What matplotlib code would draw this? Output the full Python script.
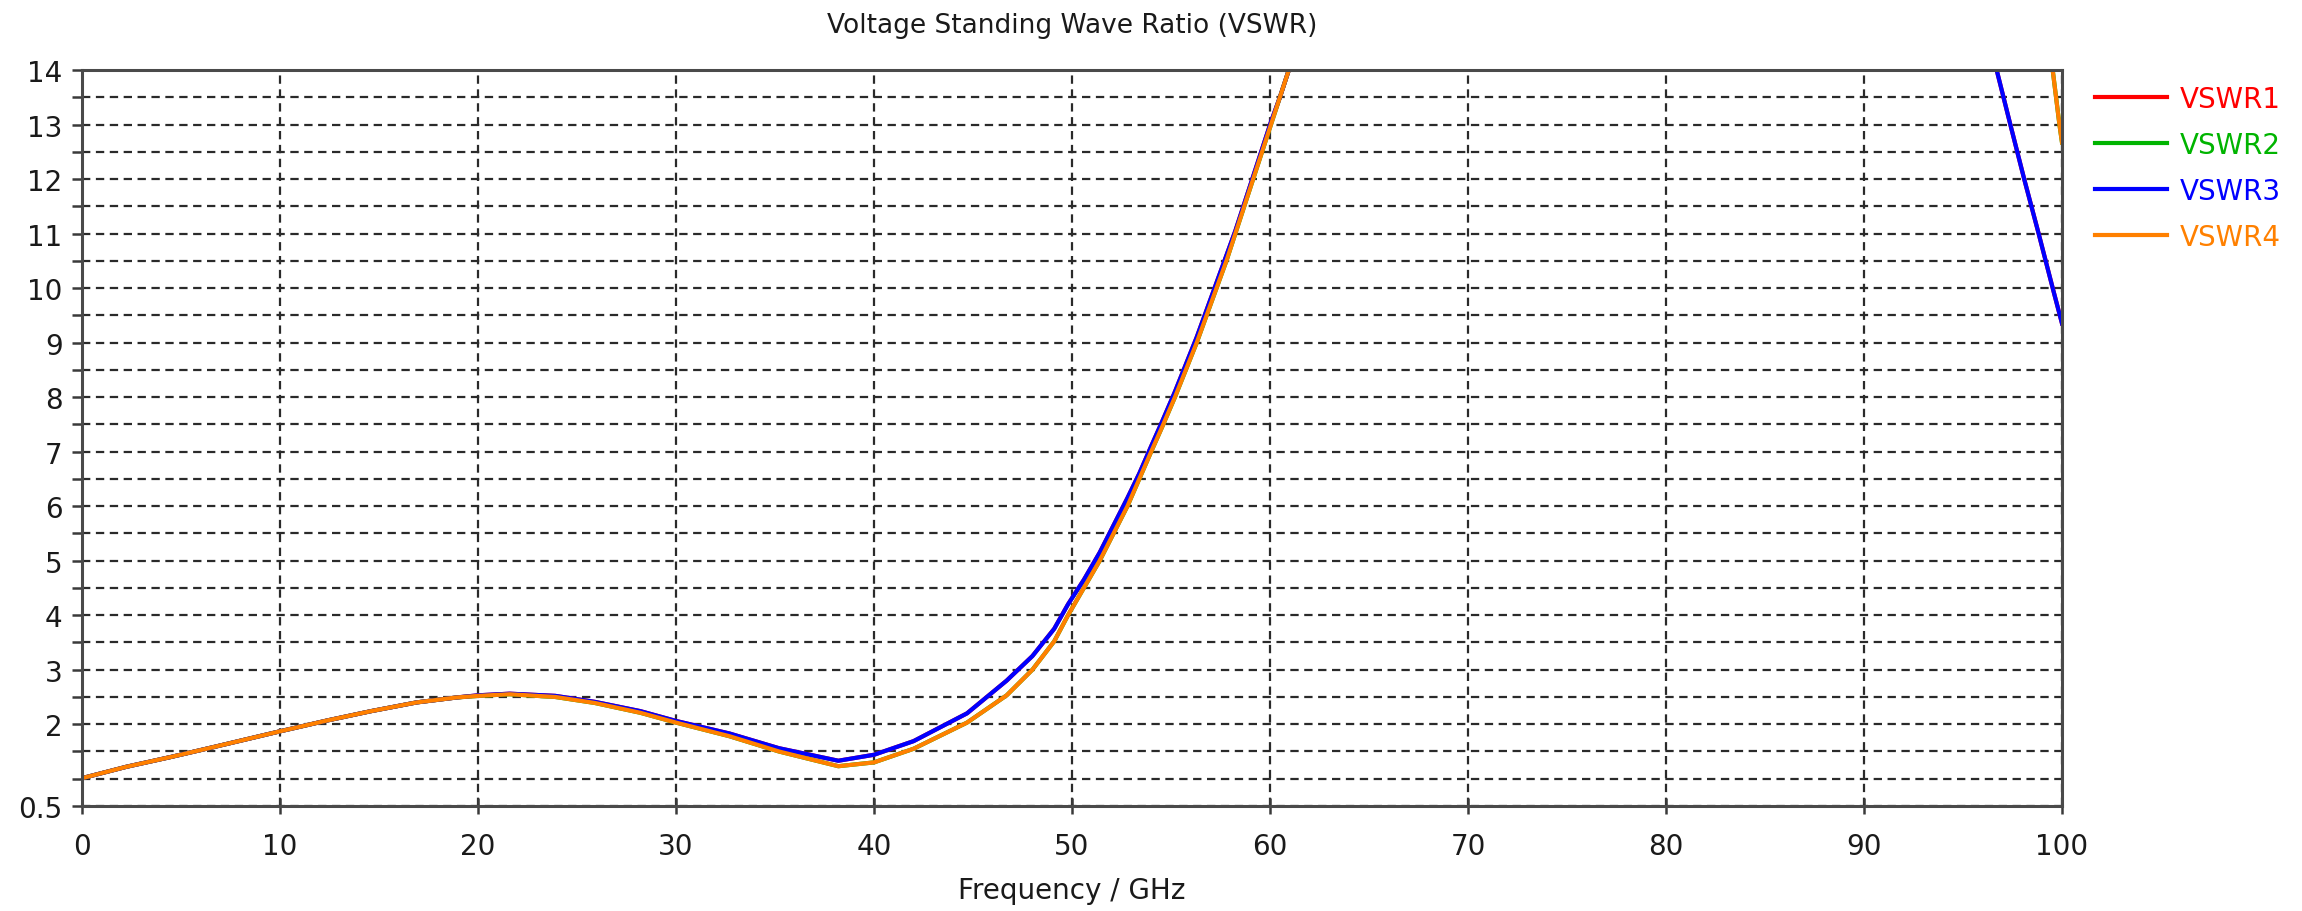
import numpy as np
import matplotlib
matplotlib.use('Agg')
from matplotlib import pyplot as plt

# frequencies in GHz (nan splits the curve where it leaves the top of the plot)
freq = [0, 2.25, 4.5, 6.75, 10, 12.4, 14.6, 16.9, 18.9, 20, 21.6, 23.9, 25.9, 28.2,
        30, 32.7, 35.2, 38.2, 40, 42, 44.7, 46.7, 48, 49.1, 49.8, 50.6, 51.4, 52.1,
        52.8, 53.4, 54.0, 54.55, 55.2, 55.75, 56.3, 56.8, 57.3, 57.8, 58.25, 58.7,
        59.15, 59.6, 60.05, 60.5, 60.95]

vswr_a = [1.01, 1.22, 1.40, 1.59, 1.87, 2.07, 2.24, 2.40, 2.49, 2.52, 2.55, 2.50, 2.39, 2.21,
          2.03, 1.78, 1.50, 1.23, 1.30, 1.55, 2.03, 2.53, 3.0, 3.52, 4.0, 4.5, 5.0, 5.5,
          6.0, 6.5, 7.0, 7.45, 8.0, 8.5, 9.0, 9.5, 10.0, 10.5, 11.0, 11.5,
          12.0, 12.5, 13.0, 13.5, 14.0]
vswr_b = [1.01, 1.22, 1.40, 1.59, 1.87, 2.07, 2.24, 2.40, 2.49, 2.53, 2.56, 2.52, 2.41, 2.24,
          2.06, 1.83, 1.56, 1.33, 1.44, 1.69, 2.20, 2.80, 3.25, 3.75, 4.2, 4.65, 5.15, 5.65,
          6.15, 6.6, 7.1, 7.55, 8.1, 8.6, 9.1, 9.6, 10.1, 10.6, 11.05, 11.55,
          12.05, 12.55, 13.05, 13.5, 14.0]

# right hand branches
freq_hi_b = [96.7, 97.39, 98.09, 98.82, 99.53, 100.0]
vswr_hi_b = [14.0, 13.0, 12.0, 11.0, 10.0, 9.35]
freq_hi_a = [99.53, 99.7, 99.87, 100.0]
vswr_hi_a = [14.0, 13.5, 13.0, 12.67]

labels = ['VSWR1', 'VSWR2', 'VSWR3', 'VSWR4']
colors = ['#ff0000', '#00b400', '#0000ff', '#ff8000']

def join(f1, v1, f2, v2):
    return np.array(f1 + [np.nan] + f2), np.array(v1 + [np.nan] + v2)

fa, va = join(freq, vswr_a, freq_hi_a, vswr_hi_a)
fb, vb = join(freq, vswr_b, freq_hi_b, vswr_hi_b)
series = [(fb, vb), (fa, va), (fb, vb), (fa, va)]

plt.rcParams['lines.scale_dashes'] = False
fig = plt.figure(figsize=(23.02, 9.12), dpi=100)
ax = fig.add_axes([82/2302, 1-807/912, (2062-82)/2302, (807-71)/912])

for (f, v), lab, c in zip(series, labels, colors):
    ax.plot(f, v, color=c, lw=3.0, label=lab, solid_joinstyle='round')

ax.set_xlim(0, 100)
ax.set_ylim(0.5, 14)
ax.set_xticks(np.arange(0, 101, 10))
ax.set_yticks([0.5] + list(range(2, 15)))
ax.set_yticks([1.0, 1.5] + [k + 0.5 for k in range(2, 14)], minor=True)
ax.set_yticklabels(['0.5'] + [str(k) for k in range(2, 15)])

grid_kw = dict(color='#2a2a2a', lw=1.6, linestyle=(0, (6, 4)))
ax.grid(True, which='major', axis='both', **grid_kw)
ax.grid(True, which='minor', axis='y', **grid_kw)
ax.set_axisbelow(True)

for s in ax.spines.values():
    s.set_color('#4a4a4a')
    s.set_linewidth(2.2)

ax.tick_params(axis='y', which='both', direction='out', length=7, width=1.8,
               color='#3a3a3a', labelsize=20, pad=7, labelcolor='#1a1a1a')
ax.tick_params(axis='x', which='major', direction='inout', length=11, width=1.8,
               color='#3a3a3a', labelsize=20, pad=13, labelcolor='#1a1a1a')

ax.set_xlabel('Frequency / GHz', fontsize=20, color='#1a1a1a', labelpad=12)
fig.text(0.4657, 1-26/912, 'Voltage Standing Wave Ratio (VSWR)', fontsize=19,
         color='#1a1a1a', ha='center', va='center')

ax.legend(loc='upper left', bbox_to_anchor=(2095/2302, 1-86/912),
          bbox_transform=fig.transFigure, frameon=False, fontsize=20,
          handlelength=2.6, handletextpad=0.45, labelspacing=0.65,
          labelcolor='linecolor', borderaxespad=0, borderpad=0)

fig.savefig('out.png', dpi=100)
